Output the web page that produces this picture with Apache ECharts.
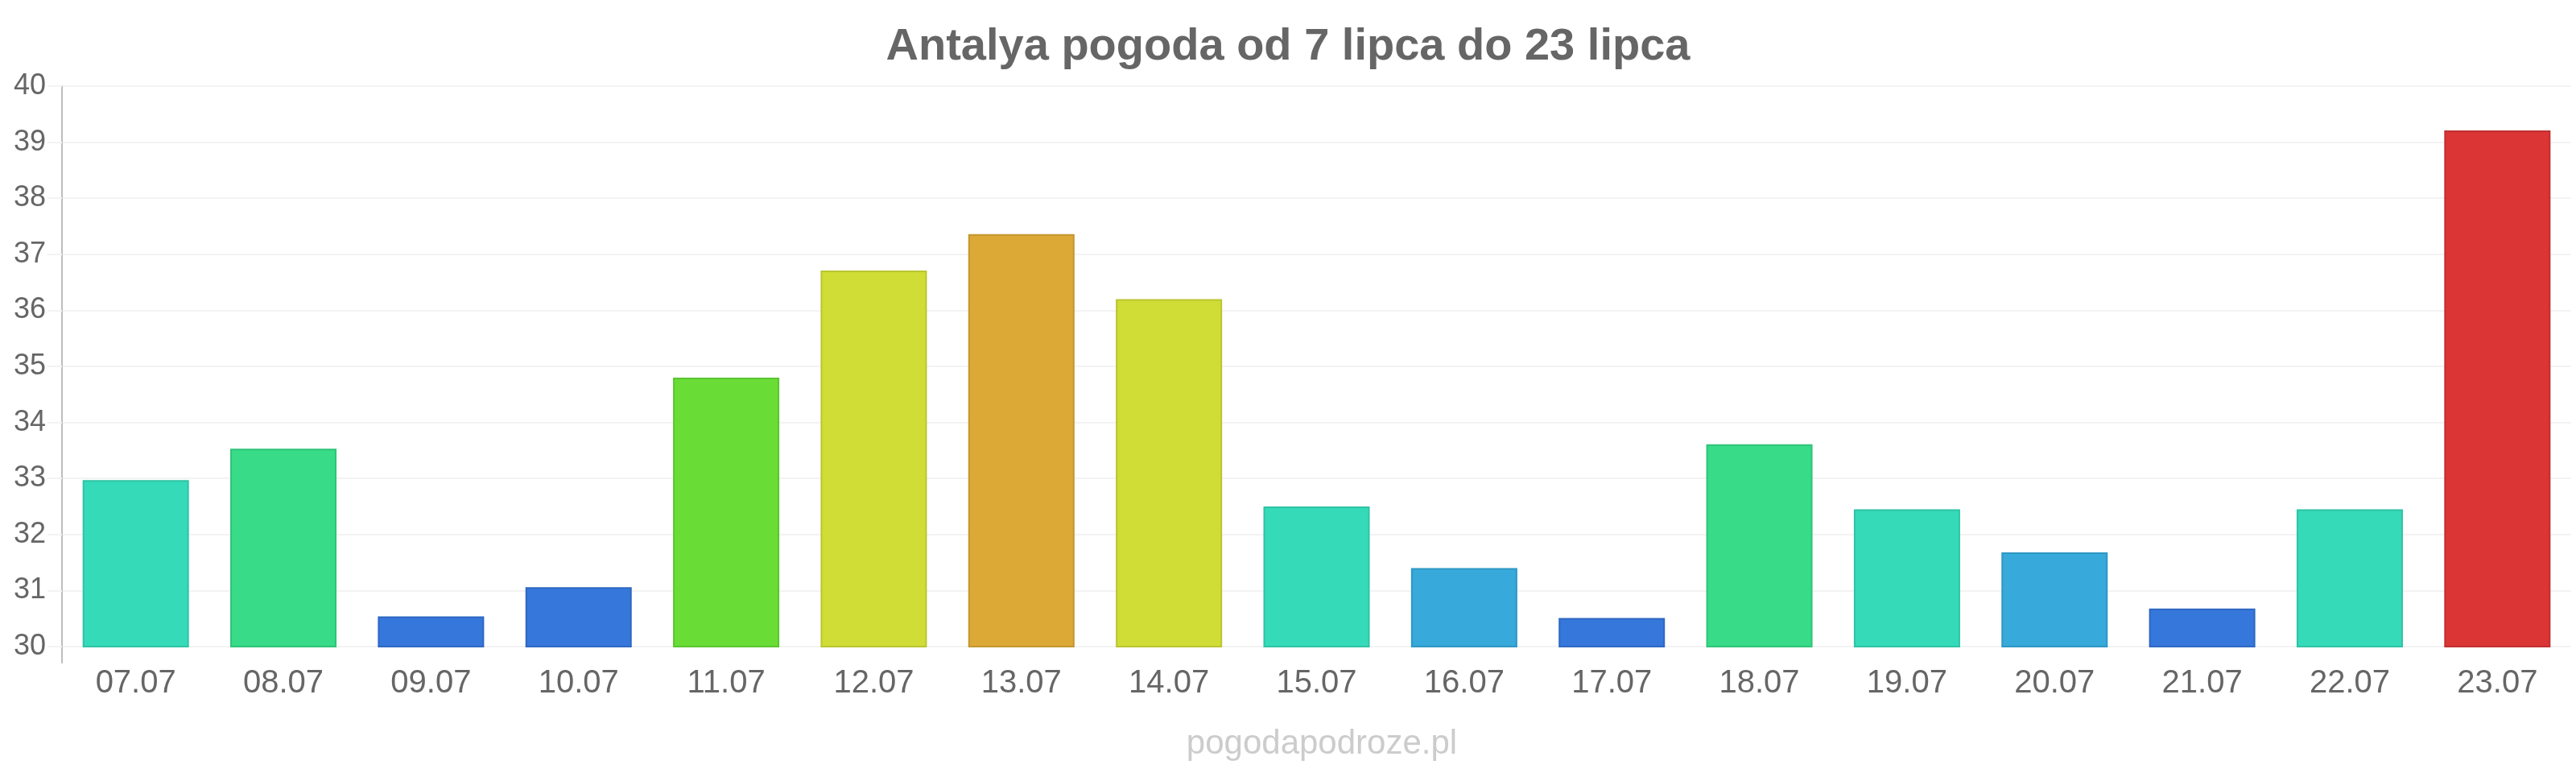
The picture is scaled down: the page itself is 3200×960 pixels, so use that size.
<!DOCTYPE html>
<html>
<head>
<meta charset="utf-8">
<script src="https://cdn.jsdelivr.net/npm/echarts@6/dist/echarts.min.js"></script>
<style>
	html, body { margin: 0; padding: 0; background: #fff; }
	#chart { width: 3200px; height: 960px; }
</style>
</head>
<body>
<div id="chart"></div>
<script>
// dni i temperatury maksymalne
var days = ['07.07','08.07','09.07','10.07','11.07','12.07','13.07','14.07','15.07','16.07','17.07','18.07','19.07','20.07','21.07','22.07','23.07'];
var temps = [32.97, 33.53, 30.54, 31.06, 34.8, 36.71, 37.36, 36.2, 32.5, 31.4, 30.51, 33.61, 32.45, 31.68, 30.68, 32.45, 39.21];
var yTicks = [30, 31, 32, 33, 34, 35, 36, 37, 38, 39, 40];

var titleText = 'Antalya pogoda od 7 lipca do 23 lipca';
var footerText = 'pogodapodroze.pl';

// kolor slupka zalezy od temperatury
function tempColor(v) {
	if (v < 31.2) return ['#3677db', '#2f68c2'];
	if (v < 32) return ['#37a9db', '#2f97c4'];
	if (v < 33.2) return ['#35dbb9', '#2ec3a4'];
	if (v < 34) return ['#37db88', '#2fc478'];
	if (v < 35.5) return ['#69dd36', '#5cc52f'];
	if (v < 37) return ['#cfdd36', '#b9c52f'];
	if (v < 38) return ['#dca936', '#c4962f'];
	return ['#db3535', '#c32e2e'];
}

var barData = temps.map(function(v) {
	var c = tempColor(v);
	return { value: v, itemStyle: { color: c[0], borderColor: c[1], borderWidth: 2 } };
});

var font = '"Liberation Sans", Arial, sans-serif';

var myChart = echarts.init(document.getElementById('chart'), null, { renderer: 'canvas' });
var option = {
	animation: false,
	backgroundColor: '#ffffff',
	title: [{
		text: titleText,
		left: 'center',
		top: 26,
		textStyle: { color: '#666666', fontSize: 56, fontWeight: 'bold', fontFamily: font }
	}, {
		text: footerText,
		left: 1637,
		textAlign: 'center',
		top: 898,
		textStyle: { color: '#cccccc', fontSize: 42, fontWeight: 'normal', fontFamily: font }
	}],
	grid: [
		{ left: 77, right: 6, top: 107, bottom: 157 },
		// tylko linia osi Y, dluzsza w dol
		{ left: 77, width: 1, top: 107, bottom: 137 }
	],
	xAxis: [{
		type: 'category',
		gridIndex: 0,
		data: days,
		axisLine: { show: false },
		axisTick: { show: false },
		axisLabel: { color: '#666666', fontSize: 40, fontFamily: font, margin: 26 }
	}, {
		type: 'value',
		gridIndex: 1,
		show: false
	}],
	yAxis: [{
		type: 'value',
		gridIndex: 0,
		min: yTicks[0],
		max: yTicks[yTicks.length - 1],
		interval: 1,
		axisLine: { show: false },
		axisTick: { show: true, length: 18, lineStyle: { color: '#f3f3f3', width: 2 } },
		splitLine: { show: true, lineStyle: { color: '#f3f3f3', width: 2 } },
		axisLabel: { color: '#666666', fontSize: 36, fontFamily: font, margin: 20 }
	}, {
		type: 'value',
		gridIndex: 1,
		min: 0,
		max: 1,
		axisLine: { show: true, lineStyle: { color: '#bdbdbd', width: 2 } },
		axisTick: { show: false },
		axisLabel: { show: false },
		splitLine: { show: false }
	}],
	series: [{
		type: 'bar',
		xAxisIndex: 0,
		yAxisIndex: 0,
		barCategoryGap: '28%',
		data: barData
	}]
};
myChart.setOption(option);
</script>
</body>
</html>
